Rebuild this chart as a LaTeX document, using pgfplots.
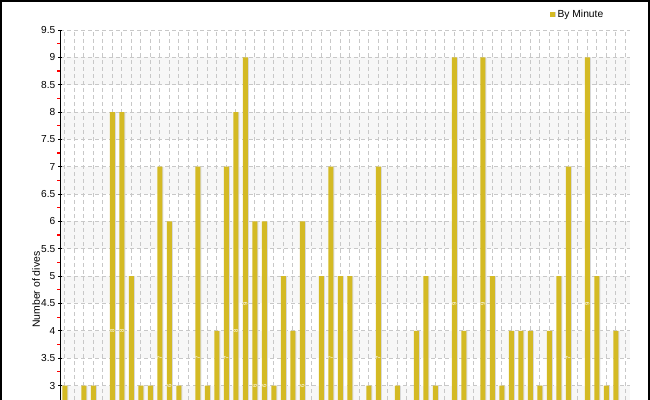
\documentclass[border=0pt]{standalone}
\usepackage{fontspec}
\setmainfont{Liberation Sans}
\usepackage{pgfplots}
\pgfplotsset{compat=1.18}
\usepackage{pgfplotstable}

\definecolor{bargold}{RGB}{212,186,36}
\definecolor{gridgray}{RGB}{200,200,200}
\definecolor{bandgray}{RGB}{247,247,247}

% minute of the hour, number of dives (minutes below the visible range left out)
\pgfplotstableread{
x y
0 3
2 3
3 3
5 8
6 8
7 5
8 3
9 3
10 7
11 6
12 3
14 7
15 3
16 4
17 7
18 8
19 9
20 6
21 6
22 3
23 5
24 4
25 6
27 5
28 7
29 5
30 5
32 3
33 7
35 3
37 4
38 5
39 3
41 9
42 4
44 9
45 5
46 3
47 4
48 4
49 4
50 3
51 4
52 5
53 7
55 9
56 5
57 3
58 4
}\dives

\begin{document}
\begin{tikzpicture}
\begin{axis}[
    set layers,
    at={(60bp,0bp)}, anchor=south west,
    scale only axis, width=570bp, height=370bp,
    xmin=-0.5, xmax=59.5, ymin=2.735, ymax=9.5,
    axis lines*=left,
    x axis line style={draw=none},
    y axis line style={black, line width=0.9bp},
    xtick={0,...,59}, xticklabels={}, x tick style={draw=none},
    ytick={3,3.5,...,9.5},
    minor y tick num=1,
    major y tick style={black, line width=0.9bp, xshift=2bp},
    minor y tick style={red, line width=1.2bp},
    tick align=outside,
    major tick length=4bp, minor tick length=3bp,
    xmajorgrids, ymajorgrids,
    major grid style={gridgray, dash pattern=on 4bp off 3bp, line width=0.9bp},
    /pgf/number format/assume math mode=true,
    yticklabel style={font=\fontsize{10.2}{12}\selectfont, inner sep=0pt, xshift=-0.5bp},
    ylabel={Number of dives},
    ylabel style={font=\fontsize{10.5}{12}\selectfont, at={(ticklabel cs:0.298)}, inner sep=1pt},
    legend style={at={(axis description cs:0.859,1.042)}, anchor=west, draw=none, fill=none,
        font=\fontsize{10.3}{12}\selectfont, inner sep=0pt},
    legend image code/.code={
        \fill[gray!35] (0.8bp,-2.2bp) rectangle (5.8bp,2.8bp);
        \fill[bargold] (0bp,-2.5bp) rectangle (5bp,2.5bp);},
]
\begin{pgfonlayer}{axis background}
\fill[bandgray] (axis cs:-0.5,2.735) rectangle (axis cs:59.5,3);
\fill[bandgray] (axis cs:-0.5,3.5) rectangle (axis cs:59.5,4);
\fill[bandgray] (axis cs:-0.5,4.5) rectangle (axis cs:59.5,5);
\fill[bandgray] (axis cs:-0.5,5.5) rectangle (axis cs:59.5,6);
\fill[bandgray] (axis cs:-0.5,6.5) rectangle (axis cs:59.5,7);
\fill[bandgray] (axis cs:-0.5,7.5) rectangle (axis cs:59.5,8);
\fill[bandgray] (axis cs:-0.5,8.5) rectangle (axis cs:59.5,9);
\end{pgfonlayer}

% shadow, then the bars
\addplot[ybar, bar width=5bp, bar shift=1.2bp, fill=gray!30, draw=none, forget plot]
    table[x=x, y=y] {\dives};
\addplot[ybar, bar width=5bp, bar shift=0bp, fill=bargold, draw=none]
    table[x=x, y=y] {\dives};
\addlegendentry{By Minute}

% white value labels in the middle of each bar
\addplot[draw=none, mark=none, forget plot, nodes near coords, point meta=explicit,
    every node near coord/.style={anchor=center, rotate=90, white,
        font=\fontsize{6}{7}\selectfont, inner sep=0pt}]
    table[x=x, y expr=\thisrow{y}/2, meta=y] {\dives};
\end{axis}
\pgfresetboundingbox
\path[use as bounding box] (0,0) rectangle (650bp,400bp);
\draw[black, line width=1.6bp] (0.8bp,-2bp) -- (0.8bp,399.2bp) -- (649.2bp,399.2bp) -- (649.2bp,-2bp);
\end{tikzpicture}
\end{document}
